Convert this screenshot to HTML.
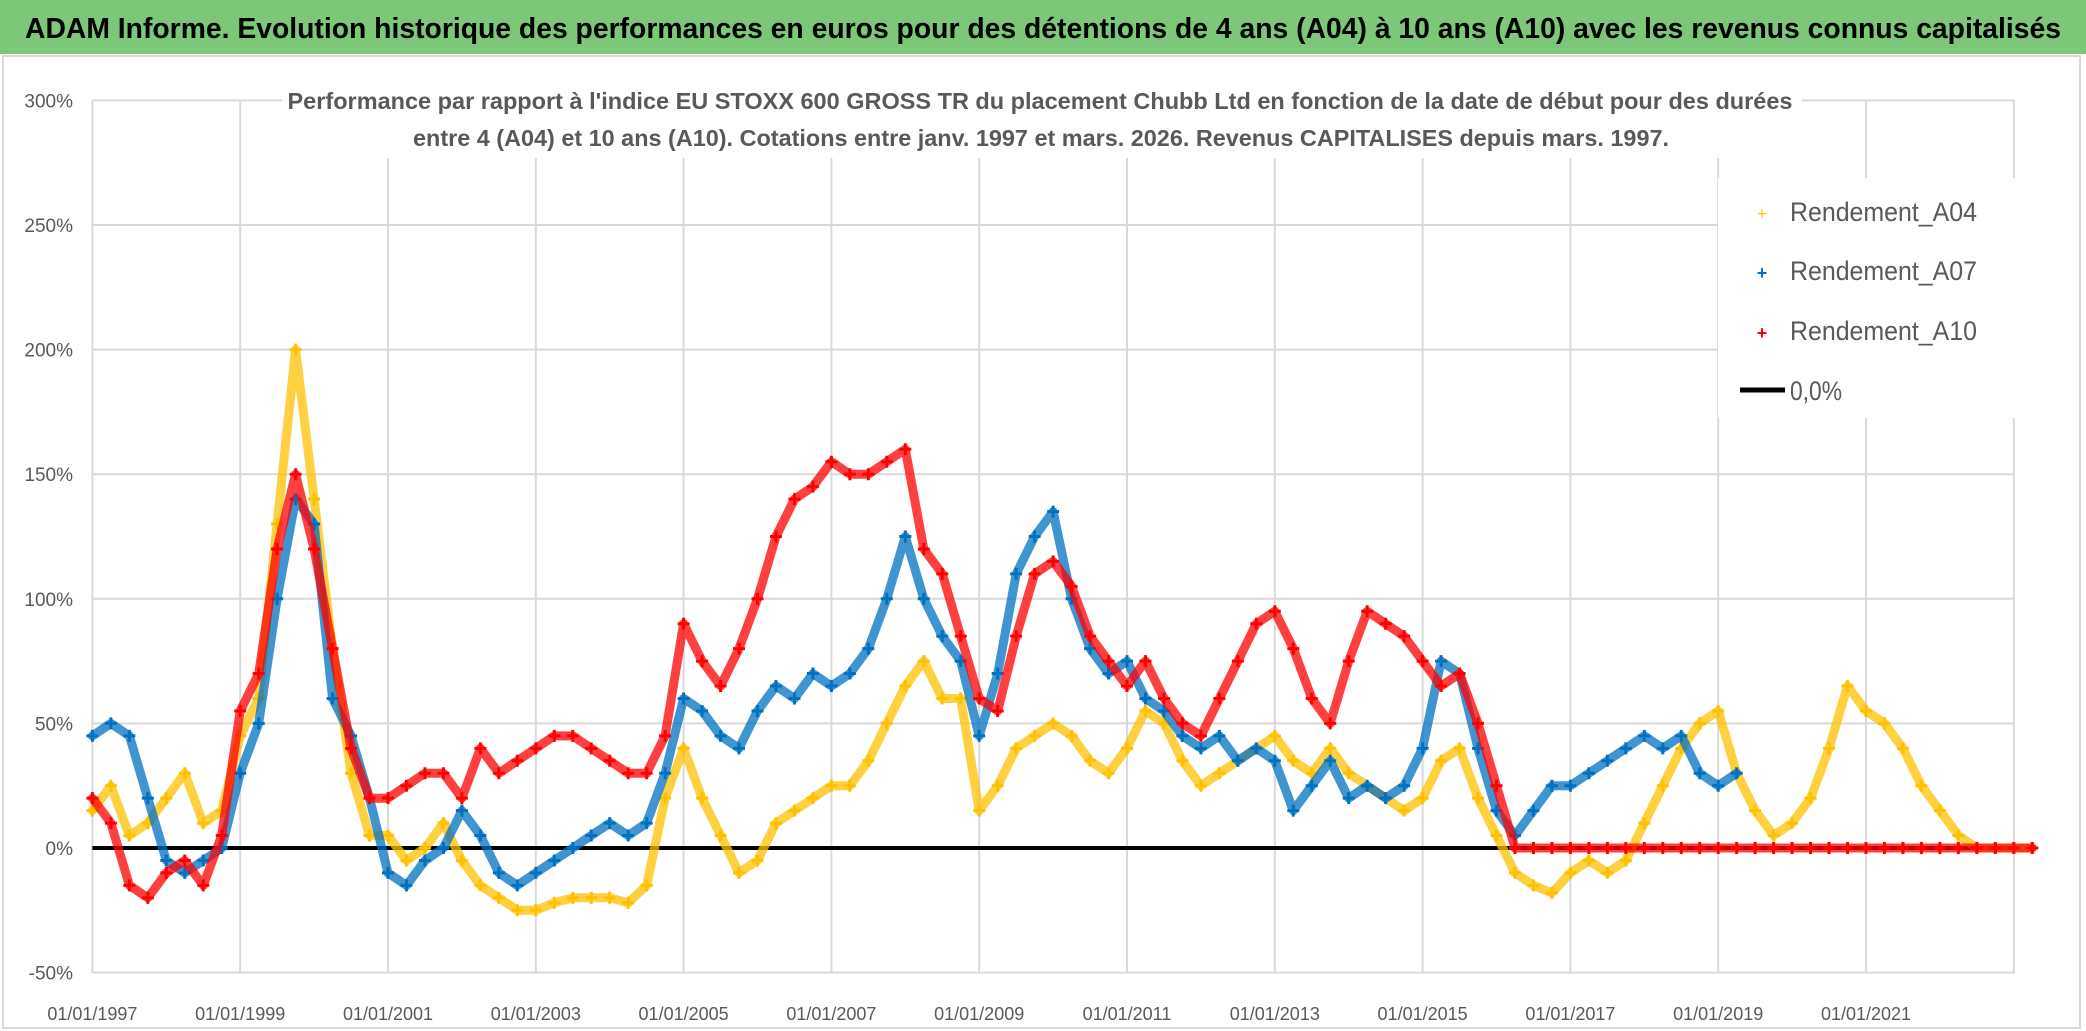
<!DOCTYPE html>
<html><head><meta charset="utf-8"><style>
html,body{margin:0;padding:0;background:#fff;}
svg{display:block;font-family:"Liberation Sans",sans-serif;}
</style></head><body>
<svg id="chart" width="2086" height="1031" viewBox="0 0 2086 1031" xmlns="http://www.w3.org/2000/svg">
<rect x="0" y="0" width="2086" height="1031" fill="#fff"/>
<rect x="0" y="0" width="2086" height="54" fill="#7cc878"/>
<text x="1043" y="38" text-anchor="middle" font-size="29" font-weight="bold" fill="#000" textLength="2036" lengthAdjust="spacingAndGlyphs">ADAM Informe. Evolution historique des performances en euros pour des détentions de 4 ans (A04) à 10 ans (A10) avec les revenus connus capitalisés</text>
<rect x="3" y="56" width="2077" height="972" fill="none" stroke="#d9d9d9" stroke-width="2"/>
<g id="grid"></g>
<rect x="282" y="80" width="1520" height="78" fill="#fff"/>
<text x="1040" y="109" text-anchor="middle" font-size="23" font-weight="bold" fill="#595959" textLength="1505" lengthAdjust="spacingAndGlyphs">Performance par rapport à l'indice EU STOXX 600 GROSS TR  du placement Chubb Ltd en fonction de la date de début pour des durées</text>
<text x="1041" y="146" text-anchor="middle" font-size="23" font-weight="bold" fill="#595959" textLength="1256" lengthAdjust="spacingAndGlyphs">entre 4 (A04) et 10 ans (A10). Cotations entre janv. 1997 et mars. 2026. Revenus CAPITALISES depuis mars. 1997.</text>
<g id="marks"></g>
<rect x="1718" y="178" width="316" height="240" fill="#fff"/>
<g font-size="27" fill="#595959">
  <g>
    <text x="1762" y="219" text-anchor="middle" font-size="16" fill="#ffc000">+</text>
    <text x="1790" y="221" textLength="187" lengthAdjust="spacingAndGlyphs">Rendement_A04</text>
  </g>
  <g>
    <text x="1762" y="279" text-anchor="middle" font-size="18" font-weight="bold" fill="#0070c0">+</text>
    <text x="1790" y="280" textLength="187" lengthAdjust="spacingAndGlyphs">Rendement_A07</text>
  </g>
  <g>
    <text x="1762" y="339" text-anchor="middle" font-size="18" font-weight="bold" fill="#ff0000">+</text>
    <text x="1790" y="340" textLength="187" lengthAdjust="spacingAndGlyphs">Rendement_A10</text>
  </g>
  <g>
    <line x1="1740" y1="390" x2="1785" y2="390" stroke="#000" stroke-width="5"/>
    <text x="1790" y="400" textLength="52" lengthAdjust="spacingAndGlyphs">0,0%</text>
  </g>
</g>
</svg>
<script>
const yTickValues = [300, 250, 200, 150, 100, 50, 0, -50];
const yTickLabels = ["300%", "250%", "200%", "150%", "100%", "50%", "0%", "-50%"];
const xTickYears = [1997, 1999, 2001, 2003, 2005, 2007, 2009, 2011, 2013, 2015, 2017, 2019, 2021];
const xTickLabels = ["01/01/1997","01/01/1999","01/01/2001","01/01/2003","01/01/2005","01/01/2007","01/01/2009","01/01/2011","01/01/2013","01/01/2015","01/01/2017","01/01/2019","01/01/2021"];
const stepYears = 0.25;
const startA04 = 1997.0;
const valuesA04 = [15,25,5,10,20,30,10,15,45,60,130,200,140,80,30,5,5,-5,0,10,-5,-15,-20,-25,-25,-22,-20,-20,-20,-22,-15,20,40,20,5,-10,-5,10,15,20,25,25,35,50,65,75,60,60,15,25,40,45,50,45,35,30,40,55,50,35,25,30,35,40,45,35,30,40,30,25,20,15,20,35,40,20,5,-10,-15,-18,-10,-5,-10,-5,10,25,40,50,55,30,15,5,10,20,40,65,55,50,40,25,15,5,0,0,0,0];
const startA07 = 1997.0;
const valuesA07 = [45,50,45,20,-5,-10,-5,0,30,50,100,140,130,60,45,20,-10,-15,-5,0,15,5,-10,-15,-10,-5,0,5,10,5,10,30,60,55,45,40,55,65,60,70,65,70,80,100,125,100,85,75,45,70,110,125,135,100,80,70,75,60,55,45,40,45,35,40,35,15,25,35,20,25,20,25,40,75,70,40,15,5,15,25,25,30,35,40,45,40,45,30,25,30];
const startA10 = 1997.0;
const valuesA10 = [20,10,-15,-20,-10,-5,-15,5,55,70,120,150,120,80,40,20,20,25,30,30,20,40,30,35,40,45,45,40,35,30,30,45,90,75,65,80,100,125,140,145,155,150,150,155,160,120,110,85,60,55,85,110,115,105,85,75,65,75,60,50,45,60,75,90,95,80,60,50,75,95,90,85,75,65,70,50,25,0,0,0,0,0,0,0,0,0,0,0,0,0,0,0,0,0,0,0,0,0,0,0,0,0,0,0,0,0];

const X0 = 92.4, PX_PER_YEAR = 73.9, Y0 = 848, PX_PER_PCT = 2.492;
const plotLeft = 92.4, plotRight = 2015, plotTop = yScale(300), plotBottom = yScale(-50);
function xScale(year){ return X0 + (year - 1997) * PX_PER_YEAR; }
function yScale(v){ return Y0 - v * PX_PER_PCT; }
const NS = "http://www.w3.org/2000/svg";
function mk(tag, attrs, parent){ const e = document.createElementNS(NS, tag); for (const k in attrs) e.setAttribute(k, attrs[k]); parent.appendChild(e); return e; }

const grid = document.getElementById("grid");
yTickValues.forEach((v, i) => {
  const gl = mk("line", {x1: plotLeft, x2: plotRight, y1: yScale(v), y2: yScale(v), stroke: "#d9d9d9", "stroke-width": 2}, grid);
  
  
  const t = mk("text", {x: 73, y: yScale(v) + 7, "text-anchor": "end", "font-size": 19, fill: "#595959"}, grid);
  t.textContent = yTickLabels[i];
  
  
});
xTickYears.forEach((yr, i) => {
  const gl = mk("line", {x1: xScale(yr), x2: xScale(yr), y1: plotTop, y2: plotBottom, stroke: "#d9d9d9", "stroke-width": 2}, grid);
  
  
  const t = mk("text", {x: xScale(yr), y: 1020, "text-anchor": "middle", "font-size": 18, fill: "#595959"}, grid);
  t.textContent = xTickLabels[i];
  
  
});
mk("line", {x1: xScale(2023), x2: xScale(2023), y1: plotTop, y2: plotBottom, stroke: "#d9d9d9", "stroke-width": 2}, grid);

const marks = document.getElementById("marks");
const zl = mk("line", {x1: plotLeft, x2: plotRight, y1: yScale(0), y2: yScale(0), stroke: "#000", "stroke-width": 4}, marks);



function drawSeries(name, start, vals, color){
  const g = mk("g", {}, marks);
  
  
  const pts = vals.map((v, i) => xScale(start + i * stepYears).toFixed(1) + "," + yScale(v).toFixed(1)).join(" ");
  mk("polyline", {points: pts, fill: "none", stroke: color, "stroke-width": 9, "stroke-linejoin": "round", "stroke-linecap": "round", opacity: 0.75}, g);
  vals.forEach((v, i) => {
    const x = xScale(start + i * stepYears), y = yScale(v);
    const p = mk("path", {d: `M${x-6},${y}H${x+6}M${x},${y-6}V${y+6}`, stroke: color, "stroke-width": 3}, g);
    
    
  });
}
drawSeries("series-a04", startA04, valuesA04, "#ffc000");
drawSeries("series-a07", startA07, valuesA07, "#0070c0");
drawSeries("series-a10", startA10, valuesA10, "#ff0000");
</script>
</body></html>
